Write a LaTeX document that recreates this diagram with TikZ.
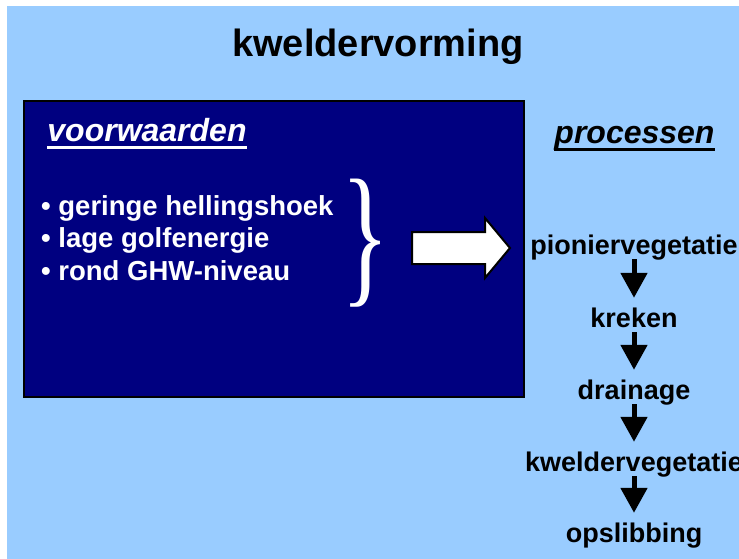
\documentclass[tikz,border=0pt]{standalone}
\usepackage{xcolor}
\usepackage{graphicx}
\usepackage{fontspec}
\setmainfont{Liberation Sans}
\newfontfamily\bracefont{Liberation Serif}
\newcommand{\onderlijn}[1]{\setbox0\hbox{#1}\rlap{\rule[-7.5pt]{\wd0}{3pt}}\box0}
\usepackage{tikz}
\usetikzlibrary{arrows.meta}
\definecolor{lucht}{HTML}{99CCFF}
\definecolor{marine}{HTML}{000080}

\begin{document}
\begin{tikzpicture}[x=1pt, y=-1pt,
    kop/.style={font=\bfseries\itshape\fontsize{32}{38}\selectfont, anchor=base, inner sep=0pt},
    proces/.style={font=\bfseries\fontsize{27}{32}\selectfont, anchor=base, inner sep=0pt, text height=20pt, text depth=5pt},
    pijl/.style={line width=5pt, -{Triangle[width=26pt 0, length=25pt 0]}, shorten >=9pt}]
    \useasboundingbox (0,0) rectangle (739,559);
    \fill[white] (0,0) rectangle (739,559);
    \fill[lucht] (7,6) rectangle (739,559);

    \node[font=\bfseries\fontsize{38}{44}\selectfont, anchor=base, inner sep=0pt] (titel) at (378,57) {kweldervorming};

    % voorwaarden
    \node[draw=black, line width=2pt, fill=marine, anchor=north west, minimum width=500pt, minimum height=296pt, inner sep=0pt] (blok) at (23,100) {};
    \node[kop, text=white] (voorwaarden) at (147,142) {\onderlijn{voorwaarden}};
    \node[font=\bfseries\fontsize{27.5}{32.5}\selectfont, text=white, align=left, anchor=base west, inner sep=0pt] (lijst) at (41,280) {
        \textbullet\ geringe hellingshoek\\
        \textbullet\ lage golfenergie\\
        \textbullet\ rond GHW-niveau
    };
    \node[text=white, inner sep=0pt] (accolade) at (366,243) {\resizebox*{48pt}{128pt}{\bracefont\}}};

    \draw[line width=2pt, fill=white, line join=miter] (412,232) -- (485,232) -- (485,218) -- (510,248) -- (485,278) -- (485,264) -- (412,264) -- cycle;

    % processen
    \node[kop] (processen) at (634.5,143) {\onderlijn{processen}};
    \node[proces] (pionier) at (634,254) {pioniervegetatie};
    \node[proces] (kreken) at (634,327) {kreken};
    \node[proces] (drainage) at (634,399) {drainage};
    \node[proces] (kwelder) at (634,471) {kweldervegetatie};
    \node[proces] (opslibbing) at (634,542) {opslibbing};

    \draw[pijl] (pionier.south) -- (kreken.north);
    \draw[pijl] (kreken.south) -- (drainage.north);
    \draw[pijl] (drainage.south) -- (kwelder.north);
    \draw[pijl] (kwelder.south) -- (opslibbing.north);
\end{tikzpicture}
\end{document}
